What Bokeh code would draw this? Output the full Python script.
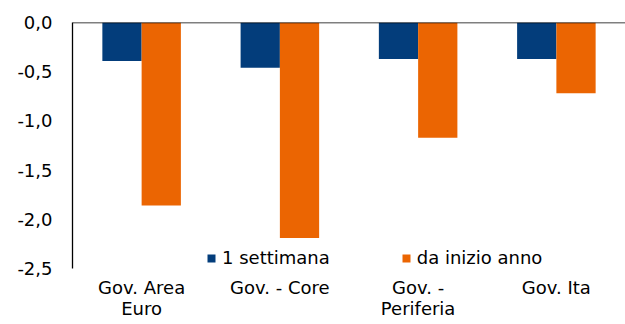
from bokeh.plotting import figure
from bokeh.models import (FactorRange, ColumnDataSource, FixedTicker, CustomJSTickFormatter,
                          Span, Legend, LegendItem)
from bokeh.transform import dodge
from bokeh.embed import file_html
from bokeh.resources import INLINE

categories = ["Gov. Area\nEuro", "Gov. - Core", "Gov. -\nPeriferia", "Gov. Ita"]
settimana = [-0.39, -0.46, -0.37, -0.37]
inizio_anno = [-1.86, -2.19, -1.17, -0.72]
series_names = ["1 settimana", "da inizio anno"]
y_ticks = [0.0, -0.5, -1.0, -1.5, -2.0, -2.5]
y_tick_labels = ["0,0", "-0,5", "-1,0", "-1,5", "-2,0", "-2,5"]

BLUE = "#033D7B"
ORANGE = "#EB6502"
FONT = "DejaVu Sans"
FS = "18px"

src = ColumnDataSource(dict(cat=categories, a=settimana, b=inizio_anno))

p = figure(width=625, height=324, x_range=FactorRange(*categories, range_padding=0),
           y_range=(-2.5, 0.0), output_backend="svg", toolbar_location=None,
           min_border_left=72, min_border_right=0, min_border_top=22, min_border_bottom=56)
p.outline_line_color = None
p.grid.grid_line_color = None
p.background_fill_color = "white"
p.border_fill_color = "white"

r1 = p.vbar(x=dodge("cat", -0.142, range=p.x_range), top=0, bottom="a", width=0.284,
            source=src, fill_color=BLUE, line_color=None)
r2 = p.vbar(x=dodge("cat", 0.142, range=p.x_range), top=0, bottom="b", width=0.284,
            source=src, fill_color=ORANGE, line_color=None)

p.add_layout(Span(location=0, dimension="width", line_color="black", line_width=1.3, level="overlay"))

# y axis
p.yaxis.ticker = FixedTicker(ticks=y_ticks)
p.yaxis.formatter = CustomJSTickFormatter(args=dict(t=y_ticks, l=y_tick_labels), code="""
    for (let i = 0; i < t.length; i++) { if (Math.abs(t[i] - tick) < 1e-9) return l[i]; }
    return "";
""")
p.yaxis.major_tick_line_color = None
p.yaxis.minor_tick_line_color = None
p.yaxis.major_tick_out = 0
p.yaxis.major_label_standoff = 20
p.yaxis.axis_line_color = "black"
p.yaxis.axis_line_width = 1.3
p.yaxis.major_label_text_font = FONT
p.yaxis.major_label_text_font_size = FS
p.yaxis.major_label_text_color = "black"

# x axis
p.xaxis.axis_line_color = None
p.xaxis.major_tick_line_color = None
p.xaxis.minor_tick_line_color = None
p.xaxis.major_tick_out = 0
p.xaxis.major_label_standoff = 8
p.xaxis.major_label_text_font = FONT
p.xaxis.major_label_text_font_size = FS
p.xaxis.major_label_text_color = "black"
p.xaxis.major_label_text_line_height = 1.0

legend = Legend(items=[LegendItem(label=series_names[0], renderers=[r1]),
                       LegendItem(label=series_names[1], renderers=[r2])],
                orientation="horizontal", location=(134, 0),
                glyph_width=10, glyph_height=10, label_standoff=6, spacing=71,
                padding=0, margin=0, border_line_color=None, background_fill_alpha=0,
                label_text_font=FONT, label_text_font_size=FS, label_text_color="black")
p.add_layout(legend, "center")

open("out.html", "w").write(file_html(p, INLINE))
